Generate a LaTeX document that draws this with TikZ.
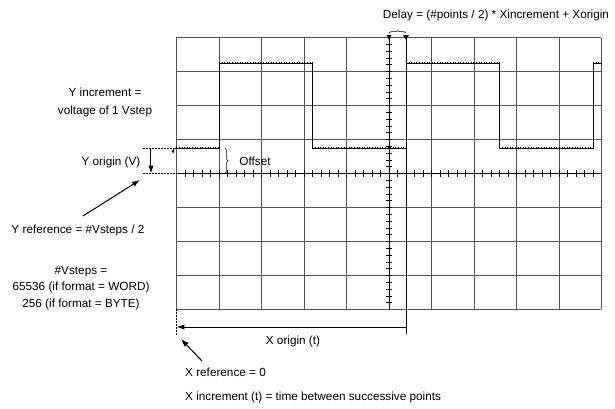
\documentclass[tikz,border=0pt]{standalone}
\usepackage{fontspec}
\setmainfont{Liberation Sans}
\usetikzlibrary{arrows.meta}
\usetikzlibrary{decorations.pathreplacing, math}
\definecolor{gridgray}{RGB}{85,85,85}

\begin{document}
\begin{tikzpicture}[x=42.5bp, y=34bp, font=\fontsize{11.8}{14}\selectfont,
  lbl/.style={inner sep=0pt, align=center},
  levelticks/.style={line width=1.6pt, dash pattern=on 0.6pt off 2pt},
  arr/.style={-{Latex[length=2.8mm,width=1.9mm]}, line width=1pt}]
\tikzmath{
\lo=4.75;
\hi=7.25;
\half=2.2;
\dly=5.4;
\tk=0.09;
}
\useasboundingbox (-4.153,-2.926) rectangle (10.318,9.103);

% grid
\foreach \i in {0,...,10}
  \draw[gridgray, line width=0.9pt] (\i,0) -- (\i,8);
\foreach \j in {0,...,8}
  \draw[gridgray, line width=0.9pt] (0,\j) -- (10,\j);

% center axes with minor ticks
\draw[black, line width=0.7pt] (0,4) -- (10,4);
\draw[black, line width=0.8pt] (5,0) -- (5,8);
\foreach \i in {1,...,49}
  \draw[line width=0.6pt] (\i/5,4-\tk) -- (\i/5,4+\tk);
\foreach \j in {1,...,39}
  \draw[line width=0.6pt] (5-0.07,\j/5) -- (5+0.07,\j/5);

% waveform
\draw[line width=0.9pt] (0,\lo) -- (1,\lo) -- (1,\hi) -- (1+\half,\hi) -- (1+\half,\lo)
  -- (\dly,\lo) -- (\dly,\hi) -- (\dly+\half,\hi) -- (\dly+\half,\lo) -- (\dly+2*\half,\lo)
  -- (\dly+2*\half,\hi) -- (10,\hi);
\foreach \a/\b/\y in {0/1/\lo, 1/3.2/\hi, 3.2/5.4/\lo, 5.4/7.6/\hi, 7.6/9.8/\lo, 9.8/10/\hi}
  \draw[levelticks] (\a,\y) -- (\b,\y);
\draw[-{Latex[length=1.2mm,width=1mm]}, line width=0.5pt] (0,\lo) -- (-0.08,\lo) -- (-0.08,\lo-0.17);

% trigger line and markers
\draw[line width=0.9pt] (\dly,-0.72) -- (\dly,8);
\fill (5,7.93) -- (5-0.06,8.08) -- (5+0.06,8.08) -- cycle;
\fill (\dly,7.93) -- (\dly-0.07,8.07) -- (\dly+0.07,8.07) -- cycle;
\draw[decorate, decoration={brace, amplitude=2pt}, line width=0.5pt] (5,8.14) -- (\dly,8.14);
\node[lbl] (delay) at (7.518,8.662) {Delay = (\#points / 2) * Xincrement + Xorigin};

% Y origin
\draw[dashed, line width=0.8pt, dash pattern=on 2pt off 1pt] (-0.79,\lo) -- (0,\lo);
\draw[dashed, line width=0.8pt, dash pattern=on 2pt off 1pt] (-0.79,4) -- (0,4);
\coordinate (yotop) at (-0.6,\lo);
\coordinate (yobot) at (-0.6,4);
\draw[arr] (yotop) -- (yobot);
\node[lbl] (yorigin) at (-1.541,4.338) {Y origin (V)};
\node[lbl, font=\fontsize{11.8}{18.4}\selectfont] (yincr) at (-1.682,6.09) {Y increment =\\voltage of 1 Vstep};

% offset
\draw[decorate, decoration={brace, amplitude=3pt}, line width=0.5pt] (1.14,\lo) -- (1.14,4);
\node[lbl] (offset) at (1.847,4.368) {Offset};

% Y reference
\node[lbl] (yref) at (-2.318,2.338) {Y reference = \#Vsteps / 2};
\coordinate (yreftail) at (-2.2,2.75);
\coordinate (yreftip) at (-0.859,3.81);
\draw[arr] (yreftail) -- (yreftip);
\node[lbl, font=\fontsize{11.8}{16.5}\selectfont] (vsteps) at (-2.247,0.632) {\#Vsteps =\\65536 (if format = WORD)\\256 (if format = BYTE)};

% X origin
\draw[dashed, line width=0.8pt, dash pattern=on 2pt off 1pt] (0,0) -- (0,-0.75);
\coordinate (xotip) at (0,-0.515);
\coordinate (xotail) at (\dly,-0.515);
\draw[arr] (xotail) -- (xotip);
\node[lbl] (xorigin) at (2.741,-0.926) {X origin (t)};

% X reference
\coordinate (xreftail) at (0.6,-1.515);
\coordinate (xreftip) at (0.106,-0.868);
\draw[arr] (xreftail) -- (xreftip);
\node[lbl, anchor=west] (xref) at (0.2,-1.838) {X reference = 0};
\node[lbl, anchor=west] (xincr) at (0.2,-2.574) {X increment (t) = time between successive points};
\end{tikzpicture}
\end{document}
